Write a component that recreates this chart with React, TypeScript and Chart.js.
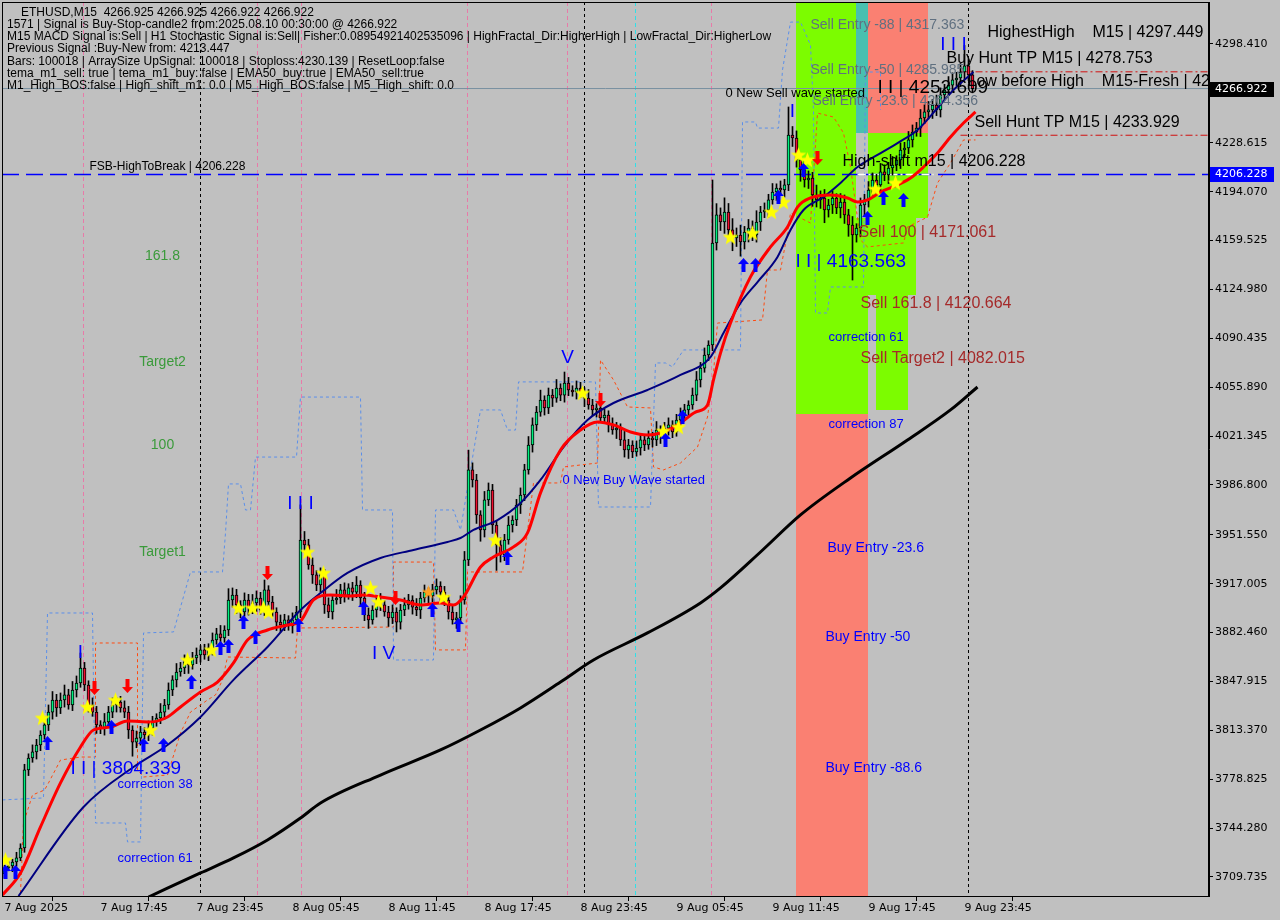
import React, { useEffect, useRef } from "react";
import { Chart, registerables } from "chart.js";
Chart.register(...registerables);

// ---------------- DATA ----------------
const FIRST_OPEN = 3712.0;
const CLOSE = [
  3716.1, 3717.5, 3720.3, 3723.2, 3730.2, 3785.4, 3793.8, 3798.1, 3803.0, 3810.1,
  3817.2, 3826.3, 3834.8, 3829.2, 3834.8, 3838.4, 3831.3, 3841.9, 3846.8, 3857.4,
  3845.4, 3831.3, 3826.3, 3817.2, 3815.0, 3819.3, 3826.3, 3831.3, 3833.4, 3829.2,
  3826.3, 3813.6, 3805.1, 3807.9, 3812.2, 3810.1, 3815.0, 3819.3, 3822.1, 3826.3,
  3831.3, 3841.9, 3849.0, 3854.6, 3857.4, 3861.7, 3859.6, 3864.5, 3866.6, 3870.2,
  3866.6, 3871.6, 3877.2, 3881.5, 3878.6, 3884.3, 3905.5, 3909.0, 3902.0, 3897.0,
  3905.5, 3899.8, 3903.4, 3906.9, 3898.4, 3912.6, 3904.1, 3897.0, 3889.9, 3887.8,
  3891.4, 3887.1, 3891.4, 3897.0, 3947.9, 3944.4, 3930.2, 3923.2, 3916.1, 3923.2,
  3902.0, 3897.0, 3905.5, 3906.9, 3912.6, 3909.0, 3914.0, 3911.1, 3916.1, 3906.9,
  3894.9, 3891.4, 3898.4, 3904.1, 3902.0, 3897.0, 3892.8, 3897.0, 3889.9, 3898.4,
  3902.0, 3905.5, 3900.5, 3898.4, 3906.9, 3911.1, 3908.3, 3912.6, 3915.4, 3911.1,
  3905.5, 3897.0, 3891.4, 3892.8, 3905.5, 3933.8, 3997.4, 3990.3, 3965.6, 3955.0,
  3976.2, 3983.2, 3958.5, 3944.4, 3937.3, 3947.9, 3958.5, 3962.0, 3972.6, 3979.7,
  3997.4, 4015.0, 4029.2, 4038.3, 4046.8, 4041.2, 4050.3, 4048.2, 4055.3, 4050.3,
  4058.8, 4053.9, 4052.5, 4055.3, 4052.5, 4048.2, 4043.3, 4039.8, 4041.2, 4034.1,
  4036.2, 4029.2, 4025.6, 4027.0, 4018.6, 4011.5, 4015.0, 4010.1, 4012.9, 4018.6,
  4015.0, 4020.0, 4018.6, 4025.6, 4022.1, 4027.0, 4029.2, 4024.2, 4032.7, 4036.2,
  4039.8, 4043.3, 4050.3, 4061.0, 4069.4, 4078.6, 4085.7, 4157.8, 4177.6, 4172.6,
  4179.7, 4167.0, 4161.3, 4163.4, 4158.5, 4165.5, 4168.4, 4163.4, 4172.6, 4179.7,
  4181.1, 4188.2, 4193.8, 4196.6, 4195.2, 4198.8, 4234.1, 4232.0, 4216.4, 4209.4,
  4202.3, 4203.7, 4191.7, 4188.2, 4189.6, 4181.1, 4184.6, 4189.6, 4182.5, 4186.7,
  4177.6, 4170.5, 4163.4, 4168.4, 4184.6, 4188.2, 4195.2, 4202.3, 4198.8, 4208.0,
  4205.8, 4210.8, 4212.9, 4216.4, 4223.5, 4224.9, 4230.6, 4236.2, 4239.0, 4246.1,
  4250.4, 4251.8, 4255.3, 4251.8, 4262.4, 4265.9, 4269.4, 4273.0, 4274.4, 4278.6,
  4282.9, 4276.6, 4266.9,
];
const UPPER_WICK = [
  2, 3, 2, 4, 3, 4, 3, 5, 4, 3,
  4, 5, 6, 4, 5, 7, 4, 6, 5, 10.6,
  4, 3, 5, 4, 3, 6, 4, 5, 3, 4,
  5, 4, 3, 5, 4, 3, 5, 4, 3, 6,
  4, 5, 3, 6, 4, 5, 3, 4, 5, 3,
  4, 3, 5, 4, 6, 3, 8, 5, 4, 3,
  5, 4, 6, 5, 4, 7, 3, 4, 3, 5,
  4, 3, 5, 4, 24.8, 6, 4, 5, 3, 5,
  4, 5, 3, 6, 4, 5, 3, 4, 6, 3,
  4, 5, 3, 4, 6, 3, 4, 5, 3, 4,
  5, 4, 3, 6, 4, 5, 3, 4, 5, 3,
  4, 3, 5, 4, 3, 6, 14, 5, 4, 3,
  6, 5, 4, 3, 5, 4, 6, 3, 4, 5,
  4, 6, 5, 4, 7, 3, 5, 4, 6, 3,
  7.8, 4, 3, 5, 4, 3, 6, 4, 3, 5,
  4, 3, 5, 4, 3, 6, 4, 3, 5, 4,
  3, 5, 4, 6, 3, 4, 5, 3, 4, 5,
  4, 3, 5, 6, 4, 5, 3, 44.5, 8, 5,
  10, 6, 8, 5, 7, 4, 6, 5, 8, 4,
  5, 4, 6, 3, 5, 4, 19.8, 6, 5, 4,
  6, 5, 4, 7, 5, 6, 4, 5, 3, 6,
  5, 4, 6, 3, 5, 4, 6, 5, 4, 6,
  5, 4, 6, 3, 5, 4, 6, 5, 4, 6,
  5, 6, 4, 7, 5, 4, 6, 5, 4, 6,
  14.5, 5, 3,
];
const LOWER_WICK = [
  3, 2, 4, 3, 2, 3, 4, 3, 5, 4,
  3, 4, 5, 6, 4, 5, 3, 4, 5, 3,
  4, 5, 3, 6, 4, 5, 3, 4, 5, 3,
  4, 6, 10, 4, 5, 3, 4, 5, 3, 4,
  5, 3, 4, 5, 3, 4, 6, 3, 4, 5,
  3, 4, 5, 3, 4, 3, 4, 5, 6, 4,
  3, 5, 4, 6, 3, 4, 5, 3, 6, 5,
  4, 3, 5, 3, 4, 5, 3, 6, 4, 5,
  6, 4, 5, 3, 4, 5, 3, 6, 4, 5,
  4, 6, 3, 5, 4, 3, 6, 4, 7, 5,
  4, 3, 5, 4, 6, 3, 5, 4, 3, 6,
  4, 5, 3, 6, 4, 3, 4, 5, 6, 8,
  5, 4, 6, 18, 5, 4, 3, 5, 4, 6,
  4, 3, 5, 4, 3, 5, 4, 6, 3, 4,
  5, 4, 3, 5, 4, 6, 3, 4, 5, 3,
  4, 5, 3, 6, 4, 5, 6, 4, 3, 5,
  4, 3, 5, 4, 6, 3, 5, 4, 3, 5,
  4, 5, 3, 4, 5, 3, 4, 4, 5, 6,
  8, 5, 9, 6, 10, 5, 7, 4, 5, 6,
  4, 5, 3, 6, 4, 5, 4, 6, 5, 8,
  5, 6, 8, 5, 6, 9, 5, 6, 4, 7,
  6, 8, 31.8, 5, 6, 8, 5, 4, 6, 5,
  4, 6, 5, 4, 6, 5, 4, 5, 3, 6,
  4, 5, 6, 4, 5, 3, 4, 5, 4, 6,
  5, 4, 3,
];

const X_TICK_BARS = [0, 24, 48, 72, 96, 120, 144, 168, 192, 216, 240];
const X_TICK_LABELS = [
  "7 Aug 2025", "7 Aug 17:45", "7 Aug 23:45", "8 Aug 05:45", "8 Aug 11:45",
  "8 Aug 17:45", "8 Aug 23:45", "9 Aug 05:45", "9 Aug 11:45", "9 Aug 17:45", "9 Aug 23:45",
];
const Y_TICK_VALUES = [
  4298.41, 4263.865, 4228.615, 4194.07, 4159.525, 4124.98, 4090.435, 4055.89, 4021.345,
  3986.8, 3951.55, 3917.005, 3882.46, 3847.915, 3813.37, 3778.825, 3744.28, 3709.735,
];

// moving averages [bar, price]
const EMA_FAST: number[][] = [
  [-0.5, 3697.0], [4, 3712.6], [9, 3745.1], [14, 3776.2], [19, 3801.6], [22.25, 3813.6],
  [26.5, 3815.7], [30.75, 3820.0], [36.5, 3819.3], [40.75, 3822.8], [44, 3829.9], [49, 3840.5],
  [53.25, 3847.5], [57.25, 3861.0], [60.75, 3877.2], [65.75, 3884.3], [70.75, 3887.8], [74, 3890.6],
  [77.25, 3905.5], [81.5, 3909.0], [86.5, 3908.3], [89.75, 3909.0], [94, 3907.6], [99, 3905.5],
  [104, 3902.0], [109, 3903.4], [112.25, 3902.0], [114.75, 3907.6], [119, 3928.8], [122.25, 3935.9],
  [127.25, 3943.0], [130.75, 3952.9], [134, 3981.2], [139, 4011.5], [144, 4025.6], [148.25, 4031.3],
  [152.25, 4029.2], [156.5, 4024.2], [160.75, 4022.1], [164.75, 4024.2], [169, 4030.6], [172.75, 4038.3],
  [175.75, 4043.3], [177.25, 4061.0], [179, 4080.0], [181.5, 4101.2], [186.5, 4133.8], [191.5, 4155.0],
  [195.75, 4169.1], [198.25, 4183.2], [201.5, 4189.6], [206.5, 4191.7], [210.75, 4189.6], [213.25, 4186.7],
  [215.75, 4188.2], [219, 4193.8], [223.25, 4198.8], [226.5, 4203.7], [229.75, 4211.5], [233.25, 4221.4],
  [236.5, 4232.7], [239.75, 4242.6], [242.75, 4250.4],
];
const EMA_SLOW: number[][] = [
  [3.5, 3696.3], [19.75, 3759.2], [32.25, 3787.5], [40.75, 3803.0], [49, 3822.8], [57.25, 3849.0],
  [65.75, 3872.3], [74, 3898.4], [79, 3910.4], [85.75, 3924.6], [94, 3935.2], [102.25, 3940.8],
  [110.75, 3946.5], [114, 3949.3], [117.25, 3955.0], [123.25, 3962.0], [129, 3974.0], [134, 3990.3],
  [139.75, 4013.6], [145.75, 4032.7], [152.25, 4044.7], [160.75, 4053.9], [169, 4064.5], [176.5, 4077.2],
  [179.75, 4094.2], [184, 4115.4], [188.25, 4130.2], [193.25, 4147.9], [196.5, 4167.0], [199.75, 4181.1],
  [204.75, 4190.3], [209, 4200.2], [213.25, 4211.5], [218.25, 4220.0], [223.25, 4228.4], [228.25, 4237.6],
  [233.25, 4253.2], [237.25, 4265.9], [242.25, 4278.6],
];
const SMA_LONG: number[][] = [
  [36, 3695.6], [49, 3712.6], [57.25, 3723.2], [65.75, 3735.9], [74, 3751.4], [79, 3762.0],
  [94, 3781.8], [109, 3799.5], [119, 3813.6], [129, 3829.2], [139, 3847.5], [147.25, 3863.1],
  [160.75, 3882.2], [174, 3903.4], [179, 3914.0], [189, 3939.4], [199, 3965.6], [211.5, 3991.7],
  [225.75, 4018.6], [236.5, 4039.8], [243.25, 4056.0],
];
const BAND_LOWER: number[][] = [
  [4, 3698.4], [4.75, 3747.9], [7, 3767.7], [10, 3771.2], [11, 3776.2], [14, 3792.4], [19, 3794.5],
  [22.75, 3794.5], [22.75, 3875.1], [33.25, 3875.1], [33.25, 3785.4], [34.75, 3780.4], [40.75, 3781.8],
  [44, 3811.5], [46.5, 3826.3], [50.75, 3834.8], [52.75, 3838.4], [54.5, 3849.0], [55.75, 3865.2],
  [72.75, 3864.5], [73.25, 3885.7], [97.25, 3886.4], [97.25, 3932.3], [107.25, 3932.3], [107.75, 3870.2],
  [115.25, 3870.2], [115.75, 3925.3], [129.5, 3925.3], [132.25, 3988.2], [139, 3988.2], [139.75, 3999.5],
  [148.25, 4002.3], [149, 4075.1], [152.25, 4061.0], [155.75, 4041.9], [161.5, 4041.2], [162.25, 3999.5],
  [164.75, 3997.4], [169, 4002.3], [173.25, 4013.6], [175.75, 4034.8], [177.25, 4065.9], [178.25, 4101.2],
  [189.5, 4103.4], [190.75, 4138.7], [194, 4138.7], [195.75, 4164.8], [196.5, 4179.0], [201.5, 4171.9],
  [203.25, 4249.6], [207.25, 4246.8], [209.75, 4235.5], [211.5, 4211.5], [214, 4159.9], [215.75, 4155.0],
  [224.75, 4157.8], [225.75, 4169.1], [230.75, 4176.1], [233.25, 4200.2], [236.5, 4214.3], [239.75, 4230.6],
  [242.75, 4230.6],
];
const BAND_UPPER: number[][] = [
  [-0.5, 3764.2], [9.75, 3765.6], [10.75, 3896.3], [22, 3896.3], [22.75, 3747.9], [30.25, 3747.9],
  [30.75, 3734.5], [34, 3734.5], [34.75, 3882.2], [42.25, 3882.9], [46.5, 3925.3], [54.5, 3925.3],
  [55.25, 3952.9], [56, 3987.5], [59, 3987.5], [60.25, 3969.1], [61.5, 3969.1], [62.75, 4006.5],
  [73, 4006.5], [74, 4048.9], [89, 4048.9], [89.5, 3969.1], [97, 3969.1], [97.25, 3863.1],
  [107.25, 3863.1], [107.75, 3969.1], [112.25, 3969.1], [114, 3955.0], [119, 4039.8], [124, 4039.8],
  [125.75, 4025.6], [127.75, 4025.6], [128.5, 4059.6], [147.75, 4059.6], [148.5, 3971.2], [161.5, 3971.2],
  [162.75, 4073.0], [165.25, 4073.0], [167, 4070.2], [169.75, 4082.2], [184, 4082.2], [184.5, 4243.3],
  [187.75, 4243.3], [188.25, 4239.0], [193.5, 4239.0], [194.5, 4280.0], [196.5, 4313.9], [199, 4313.9],
  [201.5, 4297.7], [202.25, 4251.8], [202.75, 4108.3], [205.75, 4108.3], [206.5, 4126.7], [214.75, 4126.7],
  [215.25, 4278.6], [219, 4278.6], [219, 4251.8],
];

// signals [bar, price]
const STARS: number[][] = [
  [0.25, 3721.8], [9.5, 3822.1], [20.75, 3829.9], [27.75, 3834.8], [36.5, 3813.6], [45.75, 3863.1],
  [51.75, 3870.2], [58.5, 3899.8], [62, 3899.8], [64.75, 3899.8], [66, 3897.0], [75.75, 3939.4],
  [79.75, 3924.6], [91.5, 3914.0], [93.5, 3904.1], [109.75, 3907.6], [122.75, 3947.9], [144.5, 4051.8],
  [164.75, 4024.9], [168.5, 4027.7], [181.5, 4162.0], [187, 4164.8], [191.75, 4179.7], [194.75, 4186.7],
  [198.5, 4220.0], [200.75, 4216.4], [217.75, 4195.9], [222.75, 4200.2],
];
const ORANGE_STARS: number[][] = [[106, 3911.1]];
const UP_ARROWS: number[][] = [
  [0.25, 3713.3], [2.75, 3713.3], [10.75, 3804.4], [26.75, 3815.7], [34.75, 3803.0], [39.75, 3803.0],
  [46.75, 3847.5], [54, 3871.6], [56, 3873.0], [59.75, 3889.9], [62.75, 3879.3], [73.5, 3887.8],
  [89.75, 3899.8], [107, 3898.4], [113.5, 3887.8], [125.75, 3935.2], [165.25, 4018.6], [169.5, 4034.8],
  [184.75, 4142.2], [187.75, 4142.2], [193.5, 4190.3], [199.75, 4209.4], [215.75, 4175.4], [219.75, 4189.6],
  [224.75, 4188.2],
];
const DOWN_ARROWS: number[][] = [
  [22.5, 3843.3], [30.75, 3844.7], [65.75, 3924.6], [97.75, 3906.9], [149, 4046.8], [203.25, 4217.8],
];

// levels
const BID = 4266.922;
const FSB_HIGH = 4206.228;
const BUY_HUNT_TP = 4278.753;
const SELL_HUNT_TP = 4233.929;
const HUNT_START_BAR = 239;
const SHIFT_LINE_BARS = [213.25, 232.25];

// vertical markers (bar positions)
const PINK_VLINES = [19.6, 63, 74, 115.6, 140.6, 176.6];
const CYAN_VLINES = [157.6];
const DAY_SEPARATORS = [48.75, 144.75, 240.75];

// zones: [kind, barFrom, barTo, priceLow, priceHigh]
const ZONES: (string | number)[][] = [
  ["lime", 197.75, 212.75, 4036.9, 4400],
  ["lime", 212.75, 215.75, 4036.9, 4175.4],
  ["salmon", 197.75, 215.75, 3600, 4036.9],
  ["teal", 212.75, 215.75, 4235.5, 4400],
  ["salmon", 215.75, 230.75, 4235.5, 4400],
  ["lime", 215.75, 230.75, 4175.4, 4235.5],
  ["lime", 215.75, 227.75, 4121.0, 4175.4],
  ["lime", 217.75, 225.75, 4039.8, 4121.0],
];

// chart text objects: [text, bar, price, style, align]
const LABELS: (string | number)[][] = [
  ["FSB-HighToBreak | 4206.228", 21.25, 4211.5, "fsb", "left"],
  ["161.8", 39.5, 4148.6, "green", "center"],
  ["Target2", 39.5, 4073.7, "green", "center"],
  ["100", 39.5, 4015.0, "green", "center"],
  ["Target1", 39.5, 3939.4, "green", "center"],
  ["correction 38", 28.25, 3774.8, "blueSmall", "left"],
  ["correction 61", 28.25, 3723.2, "blueSmall", "left"],
  ["I I | 3804.339", 16.5, 3786.1, "blueBig", "left"],
  ["I", 19, 3868.0, "blueBig", "center"],
  ["I I I", 74, 3973.3, "blueBig", "center"],
  ["I V", 94.75, 3867.3, "blueBig", "center"],
  ["V", 140.75, 4076.5, "blueBig", "center"],
  ["I", 197, 4250.3, "blueBig", "center"],
  ["I I I", 237.25, 4297.7, "blueBig", "center"],
  ["0 New Buy Wave started", 139.5, 3990.3, "blueSmall", "left"],
  ["0 New Sell wave started", 180.25, 4263.8, "blackSmall", "left"],
  ["Sell Entry -88 | 4317.363", 201.5, 4311.8, "slate", "left"],
  ["Sell Entry -50 | 4285.985", 201.5, 4280.0, "slate", "left"],
  ["Sell Entry -23.6 | 4264.356", 202, 4258.1, "slate", "left"],
  ["I I | 4163.563", 197.75, 4144.3, "blueBig", "left"],
  ["correction 61", 206, 4091.3, "blueSmall", "left"],
  ["correction 87", 206, 4029.9, "blueSmall", "left"],
  ["Sell 100 | 4171.061", 213.5, 4164.8, "brown", "left"],
  ["Sell 161.8 | 4120.664", 214, 4114.7, "brown", "left"],
  ["Sell Target2 | 4082.015", 214, 4075.8, "brown", "left"],
  ["Buy Entry -23.6", 205.75, 3942.2, "blueMid", "left"],
  ["Buy Entry -50", 205.25, 3879.3, "blueMid", "left"],
  ["Buy Entry -88.6", 205.25, 3786.8, "blueMid", "left"],
  ["High-shift m15 | 4206.228", 209.5, 4215.0, "black16", "left"],
  ["I I | 4252.609", 218.25, 4267.3, "blackBig", "left"],
  ["HighestHigh    M15 | 4297.449", 245.75, 4306.2, "black16", "left"],
  ["Buy Hunt TP M15 | 4278.753", 235.5, 4287.8, "black16", "left"],
  ["Low before High    M15-Fresh | 4252.609", 240.75, 4271.6, "black16", "left"],
  ["Sell Hunt TP M15 | 4233.929", 242.5, 4242.6, "black16", "left"],
];

const INFO_LINES = [
  "ETHUSD,M15  4266.925 4266.925 4266.922 4266.922",
  "1571 | Signal is Buy-Stop-candle2 from:2025.08.10 00:30:00 @ 4266.922",
  "M15 MACD Signal is:Sell | H1 Stochastic Signal is:Sell| Fisher:0.08954921402535096 | HighFractal_Dir:HigherHigh | LowFractal_Dir:HigherLow",
  "Previous Signal :Buy-New from: 4213.447",
  "Bars: 100018 | ArraySize UpSignal: 100018 | Stoploss:4230.139 | ResetLoop:false",
  "tema_m1_sell: true | tema_m1_buy: false | EMA50_buy:true | EMA50_sell:true",
  "M1_High_BOS:false | High_shift_m1: 0.0 | M5_High_BOS:false | M5_High_shift: 0.0",
];

// ---------------- STYLES ----------------
const BG = "#c0c0c0";
const BULL_FILL = "#00f080";
const BEAR_FILL = "#f01030";
const ZONE_COLORS: Record<string, string> = { lime: "#7cfc00", salmon: "#fa8072", teal: "#48c0b0" };
const LS = '"Liberation Sans", Arial, sans-serif';
const TEXT_STYLES: Record<string, { font: string; color: string }> = {
  fsb: { font: `12px ${LS}`, color: "#000000" },
  green: { font: `14px ${LS}`, color: "#3a9a3a" },
  blueSmall: { font: `13px ${LS}`, color: "#0000ff" },
  blueMid: { font: `14px ${LS}`, color: "#0000ff" },
  blueBig: { font: `19px ${LS}`, color: "#0000ff" },
  blackSmall: { font: `13px ${LS}`, color: "#000000" },
  blackBig: { font: `19px ${LS}`, color: "#000000" },
  black16: { font: `16px ${LS}`, color: "#000000" },
  slate: { font: `14px ${LS}`, color: "#607080" },
  brown: { font: `16px ${LS}`, color: "#a52a2a" },
};
const AXIS_FONT = { family: '"DejaVu Sans", Verdana, sans-serif', size: 11 };

function makeStar(color: string, size: number) {
  const c = document.createElement("canvas");
  c.width = size;
  c.height = size;
  const g = c.getContext("2d")!;
  const cx = size / 2, cy = size / 2 + 0.5, R = size / 2 - 0.3, r = R * 0.42;
  g.beginPath();
  for (let k = 0; k < 10; k++) {
    const a = -Math.PI / 2 + (k * Math.PI) / 5;
    const rr = k % 2 === 0 ? R : r;
    g.lineTo(cx + rr * Math.cos(a), cy + rr * Math.sin(a));
  }
  g.closePath();
  g.fillStyle = color;
  g.fill();
  return c;
}
function makeArrow(color: string, up: boolean) {
  const w = 11, h = 14;
  const c = document.createElement("canvas");
  c.width = w;
  c.height = h;
  const g = c.getContext("2d")!;
  const pts = [[5.5, 0], [11, 6], [7.5, 6], [7.5, 14], [3.5, 14], [3.5, 6], [0, 6]];
  g.beginPath();
  pts.forEach(([x, y]) => g.lineTo(x, up ? y : h - y));
  g.closePath();
  g.fillStyle = color;
  g.fill();
  return c;
}

const X_MIN = -0.625, X_MAX = 301.125;
const Y_MIN = 3696.3, Y_MAX = 4328.09;

export default function App() {
  const ref = useRef<HTMLCanvasElement>(null);
  useEffect(() => {
    const canvas = ref.current!;
    const opens = CLOSE.map((c, i) => (i === 0 ? FIRST_OPEN : CLOSE[i - 1]));
    const wickData = CLOSE.map((c, i) => ({
      x: i,
      y: [Math.min(opens[i], c) - LOWER_WICK[i], Math.max(opens[i], c) + UPPER_WICK[i]],
    }));
    const bodyData = CLOSE.map((c, i) => ({ x: i, y: [opens[i], c] }));
    const bodyColors = CLOSE.map((c, i) => (c >= opens[i] ? BULL_FILL : BEAR_FILL));
    const pts = (arr: number[][]) => arr.map(([x, y]) => ({ x, y }));

    const star = makeStar("#ffff00", 17);
    const ostar = makeStar("#ffa020", 15);
    const upArrow = makeArrow("#0000ff", true);
    const downArrow = makeArrow("#ff0000", false);

    const lineDs = (data: any[], color: string, width: number, order: number, dash: number[] = [], extra: any = {}) => ({
      type: "line",
      data,
      borderColor: color,
      borderWidth: width,
      borderDash: dash,
      pointRadius: 0,
      fill: false,
      order,
      ...extra,
    });

    const bgPlugin = {
      id: "mtBackground",
      beforeDraw(chart: any) {
        const ctx = chart.ctx;
        ctx.save();
        ctx.fillStyle = BG;
        ctx.fillRect(0, 0, chart.width, chart.height);
        ctx.restore();
      },
      beforeDatasetsDraw(chart: any) {
        const { ctx, chartArea: a, scales } = chart;
        const xs = scales.x, ys = scales.y;
        ctx.save();
        ctx.beginPath();
        ctx.rect(a.left, a.top, a.right - a.left, a.bottom - a.top);
        ctx.clip();
        ZONES.forEach(([kind, b0, b1, p0, p1]) => {
          const x0 = Math.round(xs.getPixelForValue(b0 as number));
          const x1 = Math.round(xs.getPixelForValue(b1 as number));
          const y0 = Math.round(ys.getPixelForValue(p1 as number));
          const y1 = Math.round(ys.getPixelForValue(p0 as number));
          ctx.fillStyle = ZONE_COLORS[kind as string];
          ctx.fillRect(x0, y0, x1 - x0, y1 - y0);
        });
        const vline = (bar: number, color: string, dash: number[]) => {
          const x = Math.round(xs.getPixelForValue(bar)) + 0.5;
          ctx.strokeStyle = color;
          ctx.lineWidth = 1;
          ctx.setLineDash(dash);
          ctx.beginPath();
          ctx.moveTo(x, a.top);
          ctx.lineTo(x, a.bottom);
          ctx.stroke();
        };
        PINK_VLINES.forEach((b) => vline(b, "#e87aa8", [4, 3]));
        CYAN_VLINES.forEach((b) => vline(b, "#30e0e8", [4, 3]));
        DAY_SEPARATORS.forEach((b) => vline(b, "#000000", [3, 3]));
        ctx.restore();
      },
      afterDatasetsDraw(chart: any) {
        const { ctx, chartArea: a, scales } = chart;
        const xs = scales.x, ys = scales.y;
        ctx.save();
        ctx.beginPath();
        ctx.rect(a.left, a.top, a.right - a.left, a.bottom - a.top);
        ctx.clip();
        ctx.textBaseline = "middle";
        LABELS.forEach(([text, bar, price, style, align]) => {
          const st = TEXT_STYLES[style as string];
          ctx.font = st.font;
          ctx.fillStyle = st.color;
          ctx.textAlign = align as CanvasTextAlign;
          ctx.fillText(text as string, xs.getPixelForValue(bar as number), ys.getPixelForValue(price as number));
        });
        ctx.font = `12px ${LS}`;
        ctx.fillStyle = "#000000";
        ctx.textAlign = "left";
        INFO_LINES.forEach((line, i) => {
          ctx.fillText(line, i === 0 ? 21 : 7, 12.5 + i * 12.2);
        });
        ctx.restore();
      },
      afterDraw(chart: any) {
        const { ctx, chartArea: a, scales } = chart;
        const ys = scales.y;
        ctx.save();
        ctx.strokeStyle = "#000000";
        ctx.lineWidth = 1;
        ctx.setLineDash([]);
        ctx.strokeRect(a.left + 0.5, a.top + 0.5, a.right - a.left - 1, a.bottom - a.top);
        const box = (price: number, bg: string) => {
          const y = Math.round(ys.getPixelForValue(price));
          ctx.fillStyle = bg;
          ctx.fillRect(a.right + 1, y - 7, 64, 15);
          ctx.fillStyle = "#ffffff";
          ctx.font = `11px ${AXIS_FONT.family}`;
          ctx.textAlign = "left";
          ctx.textBaseline = "middle";
          ctx.fillText(price.toFixed(3), a.right + 6, y + 0.5);
        };
        box(BID, "#000000");
        box(FSB_HIGH, "#0000ff");
        ctx.restore();
      },
    };

    const chart = new Chart(canvas, {
      type: "bar",
      data: {
        datasets: [
          lineDs(pts(BAND_UPPER), "#5b8fea", 1, 30, [3, 3]),
          lineDs(pts(BAND_LOWER), "#ff4a10", 1, 30, [3, 3]),
          lineDs([{ x: X_MIN, y: BID }, { x: X_MAX, y: BID }], "#7890a0", 1, 29),
          lineDs([{ x: X_MIN, y: FSB_HIGH }, { x: X_MAX, y: FSB_HIGH }], "#0000ff", 1.5, 29, [17, 7]),
          lineDs([{ x: HUNT_START_BAR, y: BUY_HUNT_TP }, { x: X_MAX, y: BUY_HUNT_TP }], "#d01010", 1, 29, [7, 3, 2, 3]),
          lineDs([{ x: HUNT_START_BAR, y: SELL_HUNT_TP }, { x: X_MAX, y: SELL_HUNT_TP }], "#d01010", 1, 29, [7, 3, 2, 3]),
          lineDs([{ x: SHIFT_LINE_BARS[0], y: FSB_HIGH }, { x: SHIFT_LINE_BARS[1], y: FSB_HIGH }], "#ffffff", 1.5, 28, [8, 3, 2, 3]),
          lineDs(pts(SMA_LONG), "#000000", 3, 25, [], { cubicInterpolationMode: "monotone" }),
          {
            type: "bar",
            data: wickData,
            backgroundColor: "#000000",
            borderWidth: 0,
            barThickness: 1,
            grouped: false,
            order: 20,
          },
          {
            type: "bar",
            data: bodyData,
            backgroundColor: bodyColors,
            borderColor: "#000000",
            borderWidth: 1,
            borderSkipped: false,
            barThickness: 3,
            minBarLength: 1,
            grouped: false,
            order: 19,
          },
          lineDs(pts(EMA_SLOW), "#000080", 2, 8, [], { cubicInterpolationMode: "monotone" }),
          lineDs(pts(EMA_FAST), "#ff0000", 3, 7, [], { cubicInterpolationMode: "monotone" }),
          { type: "scatter", data: pts(STARS), pointStyle: star, pointRadius: 6, order: 3 },
          { type: "scatter", data: pts(ORANGE_STARS), pointStyle: ostar, pointRadius: 6, order: 3 },
          { type: "scatter", data: pts(UP_ARROWS), pointStyle: upArrow, pointRadius: 6, order: 2 },
          { type: "scatter", data: pts(DOWN_ARROWS), pointStyle: downArrow, pointRadius: 6, order: 2 },
        ] as any,
      },
      options: {
        responsive: false,
        animation: false,
        events: [],
        layout: { autoPadding: false, padding: { left: 2, top: 2, right: 0, bottom: 0 } },
        plugins: { legend: { display: false }, tooltip: { enabled: false } },
        scales: {
          x: {
            type: "linear",
            min: X_MIN,
            max: X_MAX,
            offset: false,
            grid: { display: true, drawOnChartArea: false, drawTicks: true, tickLength: 5, color: "#000000" },
            border: { display: true, color: "#000000" },
            ticks: {
              autoSkip: false,
              maxRotation: 0,
              minRotation: 0,
              align: "start",
              padding: 1,
              color: "#000000",
              font: AXIS_FONT,
              callback: (_v: any, i: number) => X_TICK_LABELS[i],
            },
            afterBuildTicks: (s: any) => {
              s.ticks = X_TICK_BARS.map((value) => ({ value }));
            },
            afterFit: (s: any) => {
              s.height = 24;
              s.paddingLeft = 0;
              s.paddingRight = 0;
              s.paddingTop = 0;
              s.paddingBottom = 0;
            },
          },
          y: {
            type: "linear",
            position: "right",
            min: Y_MIN,
            max: Y_MAX,
            grid: { display: true, drawOnChartArea: false, drawTicks: true, tickLength: 4, color: "#000000" },
            border: { display: true, color: "#000000" },
            ticks: {
              autoSkip: false,
              padding: 2,
              color: "#000000",
              font: AXIS_FONT,
              callback: (v: any) => Number(v).toFixed(3),
            },
            afterBuildTicks: (s: any) => {
              s.ticks = Y_TICK_VALUES.map((value) => ({ value }));
            },
            afterFit: (s: any) => {
              s.width = 71;
              s.paddingLeft = 0;
              s.paddingRight = 0;
              s.paddingTop = 0;
              s.paddingBottom = 0;
            },
          },
        },
      } as any,
      plugins: [bgPlugin],
    });
    return () => chart.destroy();
  }, []);
  return (
    <div style={{ position: "fixed", left: 0, top: 0, width: 1280, height: 920, background: BG }}>
      <canvas ref={ref} width={1280} height={920} style={{ display: "block", width: 1280, height: 920 }} />
    </div>
  );
}
